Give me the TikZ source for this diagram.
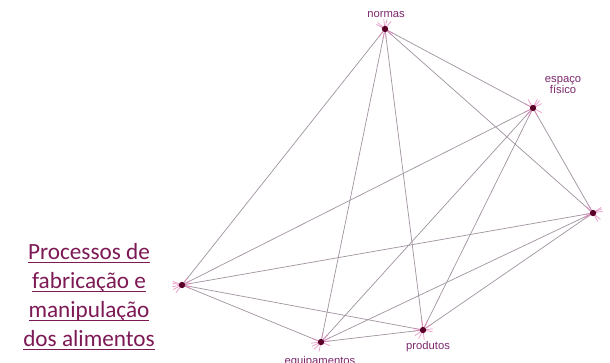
\documentclass[tikz,border=0pt]{standalone}
\usepackage{fontspec}
\setmainfont{Liberation Sans}
\newfontfamily\calibri{Carlito}
\usetikzlibrary{calc,backgrounds}
\definecolor{vinho}{RGB}{125,25,85}
\definecolor{rotulo}{RGB}{125,40,110}
\definecolor{ponto}{RGB}{90,0,40}
\definecolor{linha}{RGB}{160,148,160}
\definecolor{espinho}{RGB}{225,130,185}
\newcommand\sublinha[1]{\setbox0\hbox{#1}\rlap{\copy0}\rule[-3pt]{\wd0}{0.9pt}}
\tikzset{
  vertice/.style={circle, fill=ponto, inner sep=0pt, minimum size=4.5pt},
  rotulo/.style={text=rotulo, font=\fontsize{8}{5.5}\selectfont, inner sep=0pt},
  aresta/.style={draw=linha, line width=0.5pt},
  espinho/.style={draw=espinho, line width=0.5pt, opacity=0.8}
}
\begin{document}
\begin{tikzpicture}[x=0.025cm, y=-0.025cm, every text node part/.style={align=center}]
        \useasboundingbox (0,0) rectangle (610,362);

        \node(Normas) at (385,29)[vertice]{};
        \node(Espaco) at (533,108)[vertice]{};
        \node(Ponto) at (593,213)[vertice]{};
        \node(Processos) at (182,285)[vertice]{};
        \node(Equipamentos) at (321,342)[vertice]{};
        \node(Produtos) at (423,330)[vertice]{};

        \node(NormasTxt) at (386,15)[rotulo]{normas};
        \node(EspacoTxt) at (563,85)[rotulo]{espaço\\[-1pt]físico};
        \node(ProdutosTxt) at (428,347)[rotulo]{produtos};
        \node(EquipamentosTxt) at (320,362)[rotulo]{equipamentos};

        \node(Titulo) at (89,346)[anchor=base, text=vinho, font=\calibri\fontsize{16.5}{20.6}\selectfont]{\sublinha{Processos de}\\\sublinha{fabricação e}\\\sublinha{manipulação}\\\sublinha{dos alimentos}};

        \begin{pgfonlayer}{background}
        \fill[white] (0,0) rectangle (610,362);
        \foreach \a/\b in {Normas/Espaco, Normas/Ponto, Normas/Processos, Normas/Equipamentos, Normas/Produtos,
                           Espaco/Ponto, Espaco/Processos, Espaco/Equipamentos, Espaco/Produtos,
                           Ponto/Processos, Ponto/Equipamentos, Ponto/Produtos,
                           Processos/Equipamentos, Processos/Produtos, Equipamentos/Produtos}{
            \draw[aresta] (\a) -- (\b);
            \draw[espinho] ($(\a)!-7pt!(\b)$) -- ($(\a)!7pt!(\b)$);
            \draw[espinho] ($(\b)!-7pt!(\a)$) -- ($(\b)!7pt!(\a)$);
        }
        \end{pgfonlayer}

    \end{tikzpicture}
\end{document}
